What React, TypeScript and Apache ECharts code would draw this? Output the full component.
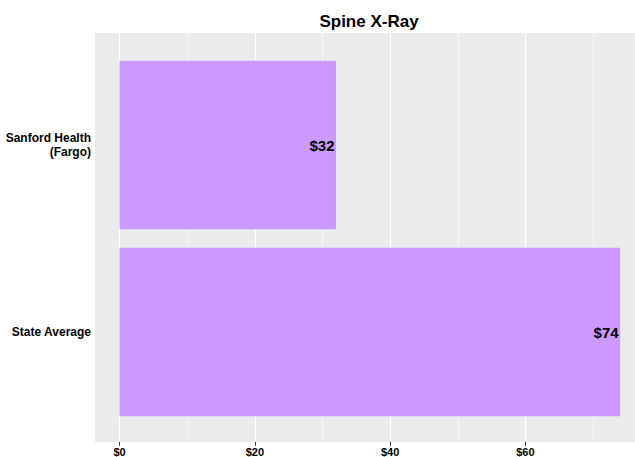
import React, { useEffect, useRef } from "react";
import * as echarts from "echarts";

const chartTitle = "Spine X-Ray";
const categories = ["Sanford Health\n(Fargo)", "State Average"];
const values = [32, 74];

export default function App() {
  const ref = useRef<HTMLDivElement>(null);
  useEffect(() => {
    const chart = echarts.init(ref.current!, null, { renderer: "svg" });
    const xMin = -3.7;
    const xMax = 76.2;
    const font = "'Liberation Sans', Arial, sans-serif";
    chart.setOption({
      animation: false,
      backgroundColor: "#ffffff",
      graphic: [
        {
          type: "text",
          x: 369,
          y: 21,
          style: {
            text: chartTitle,
            textAlign: "center",
            textVerticalAlign: "middle",
            fontSize: 17,
            fontWeight: "bold",
            fontFamily: font,
            fill: "#000000",
          },
        },
      ],
      grid: [
        {
          left: 94.5,
          right: 0,
          top: 33,
          bottom: 13,
          show: true,
          backgroundColor: "#EBEBEB",
          borderWidth: 0,
        },
        { left: 94.5, right: 0, top: 51.5, bottom: 31.5 },
      ],
      xAxis: [
        {
          gridIndex: 0,
          type: "value",
          min: xMin,
          max: xMax,
          axisLine: { show: false },
          axisTick: { show: true, length: 3.7, lineStyle: { color: "#333333", width: 1 } },
          axisLabel: {
            show: true,
            showMinLabel: false,
            showMaxLabel: false,
            margin: 4,
            formatter: (v: number) => (v % 20 === 0 ? "$" + v : ""),
            color: "#000000",
            fontSize: 11,
            fontWeight: "bold",
            fontFamily: font,
          },
          splitLine: { show: true, lineStyle: { color: "#ffffff", width: 1.1 } },
        },
        {
          gridIndex: 0,
          type: "value",
          min: xMin - 10,
          max: xMax - 10,
          axisLine: { show: false },
          axisTick: { show: false },
          axisLabel: { show: false },
          splitLine: { show: true, lineStyle: { color: "#ffffff", width: 0.55 } },
        },
        { gridIndex: 1, type: "value", min: xMin, max: xMax, show: false },
      ],
      yAxis: [
        { gridIndex: 0, type: "value", min: 0, max: 1, show: false },
        {
          gridIndex: 1,
          type: "category",
          data: categories,
          inverse: true,
          axisLine: { show: false },
          axisTick: { show: false },
          splitLine: { show: false },
          axisLabel: {
            margin: 3.5,
            color: "#000000",
            fontSize: 12,
            fontWeight: "bold",
            fontFamily: font,
            lineHeight: 13.5,
            align: "right",
          },
        },
      ],
      series: [
        {
          type: "bar",
          xAxisIndex: 2,
          yAxisIndex: 1,
          data: values,
          barWidth: "90%",
          itemStyle: { color: "#CC99FF" },
          label: {
            show: true,
            position: "insideRight",
            distance: 1.5,
            formatter: (p: any) => "$" + p.value,
            color: "#000000",
            fontSize: 15,
            fontWeight: "bold",
            fontFamily: font,
          },
        },
      ],
    });
    return () => chart.dispose();
  }, []);
  return (
    <div
      ref={ref}
      style={{ position: "absolute", left: 0, top: 0, width: 635, height: 457 }}
    />
  );
}
